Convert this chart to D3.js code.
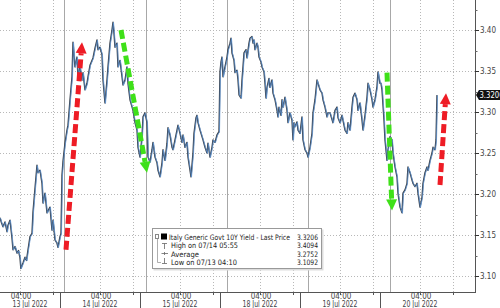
<!DOCTYPE html>
<html>
<head>
<meta charset="utf-8">
<script src="https://cdn.jsdelivr.net/npm/d3@7"></script>
<style>
  html, body { margin: 0; padding: 0; background: #fff; }
  svg { display: block; }
  text { font-family: "Liberation Sans Narrow", "DejaVu Sans Condensed", "Arial Narrow", sans-serif; }
</style>
</head>
<body>
<div id="viz"></div>
<script>
// trading days shown (weekend skipped); a session runs 20:00 the evening before -> 12:00
var dayLabels = ["13 Jul 2022", "14 Jul 2022", "15 Jul 2022", "18 Jul 2022", "19 Jul 2022", "20 Jul 2022"];
// solid session-open markers (hour, negative = previous evening)
var sessionOpen = [null, -3.2, -2.8, -2.6, -2.4, -2.0];

// Italy 10Y yield, [hour, yield] per day
var day13 = [[0,3.171],[0.3,3.165],[0.6,3.160],[1.0,3.166],[1.4,3.154],[1.6,3.162],[2.0,3.168],[2.4,3.146],[2.6,3.132],[3.0,3.136],[3.4,3.128],[3.7,3.131],[4.0,3.122],[4.17,3.1092],[4.6,3.116],[5.0,3.123],[5.3,3.119],[5.6,3.132],[6.0,3.148],[6.4,3.152],[6.6,3.178],[7.0,3.207],[7.4,3.235],[7.6,3.226],[8.0,3.229],[8.4,3.213],[8.6,3.189],[9.0,3.201],[9.4,3.177],[10.0,3.184],[10.4,3.156],[10.6,3.168],[11.0,3.144],[11.4,3.140],[11.6,3.135],[12.0,3.148],[12.2,3.152]];
var day14 = [[-3.6,3.223],[-3.4,3.240],[-3.0,3.262],[-2.6,3.278],[-2.4,3.284],[-2.0,3.315],[-1.6,3.343],[-1.4,3.385],[-1.0,3.355],[-0.6,3.367],[-0.4,3.343],[0,3.355],[0.4,3.339],[0.6,3.348],[1.0,3.327],[1.4,3.335],[1.6,3.343],[2.0,3.357],[2.6,3.366],[3.0,3.378],[3.4,3.388],[3.6,3.376],[4.0,3.379],[4.4,3.370],[4.6,3.339],[5.0,3.311],[5.4,3.339],[5.6,3.355],[6.0,3.384],[6.4,3.400],[6.6,3.4094],[6.8,3.396],[7.0,3.379],[7.4,3.384],[7.6,3.355],[8.0,3.363],[8.4,3.343],[8.6,3.333],[9.0,3.339],[9.4,3.355],[9.6,3.335],[10.0,3.315],[10.6,3.302],[11.0,3.287],[11.4,3.278],[11.6,3.257],[12.0,3.245]];
var day15 = [[-3.6,3.270],[-3.4,3.294],[-3.0,3.299],[-2.6,3.287],[-2.4,3.245],[-2.0,3.239],[-1.6,3.254],[-1.4,3.263],[-1.0,3.245],[-0.6,3.238],[-0.4,3.229],[0,3.221],[0.4,3.238],[0.6,3.254],[1.0,3.241],[1.4,3.262],[1.6,3.281],[2.0,3.272],[2.4,3.257],[2.6,3.254],[3.0,3.266],[3.4,3.278],[3.6,3.284],[4.0,3.274],[4.4,3.263],[4.6,3.272],[5.0,3.257],[5.4,3.263],[5.6,3.245],[6.0,3.229],[6.2,3.221],[6.6,3.250],[6.8,3.274],[7.2,3.293],[7.4,3.296],[7.6,3.287],[8.0,3.278],[8.4,3.270],[8.6,3.266],[9.0,3.257],[9.4,3.250],[9.6,3.262],[10.0,3.245],[10.4,3.257],[10.6,3.266],[11.0,3.263],[11.4,3.272],[11.8,3.276]];
var day18 = [[-4.0,3.349],[-3.8,3.361],[-3.6,3.367],[-3.4,3.343],[-3.0,3.355],[-2.6,3.367],[-2.4,3.376],[-2.0,3.384],[-1.8,3.390],[-1.6,3.372],[-1.2,3.363],[-1.0,3.348],[-0.6,3.351],[-0.4,3.339],[-0.2,3.321],[0.2,3.317],[0.4,3.339],[0.6,3.355],[0.8,3.372],[1.2,3.376],[1.4,3.366],[1.8,3.384],[2.0,3.390],[2.4,3.392],[2.6,3.384],[2.8,3.388],[3.0,3.376],[3.4,3.384],[3.6,3.379],[3.8,3.367],[4.2,3.361],[4.4,3.355],[4.8,3.349],[5.0,3.335],[5.2,3.317],[5.4,3.330],[5.8,3.341],[6.0,3.330],[6.4,3.339],[6.6,3.323],[7.0,3.315],[7.4,3.302],[7.6,3.294],[7.8,3.306],[8.2,3.296],[8.4,3.315],[8.6,3.306],[9.0,3.318],[9.4,3.302],[9.6,3.287],[10.0,3.299],[10.4,3.290],[10.6,3.266],[10.8,3.287],[11.0,3.282],[11.4,3.288],[11.6,3.278],[12.0,3.274]];
var day19 = [[-3.6,3.294],[-3.4,3.266],[-3.0,3.254],[-2.6,3.250],[-2.4,3.245],[-2.0,3.257],[-1.6,3.274],[-1.4,3.299],[-1.0,3.315],[-0.6,3.339],[-0.4,3.335],[0,3.327],[0.4,3.323],[0.6,3.315],[1.0,3.306],[1.4,3.294],[1.6,3.299],[2.0,3.299],[2.6,3.287],[3.0,3.302],[3.4,3.306],[3.6,3.293],[4.0,3.287],[4.4,3.296],[5.0,3.278],[5.4,3.274],[5.6,3.287],[6.0,3.278],[6.4,3.306],[6.6,3.318],[7.0,3.323],[7.4,3.315],[7.6,3.302],[8.0,3.311],[8.4,3.290],[8.6,3.278],[9.0,3.296],[9.4,3.318],[9.6,3.335],[10.0,3.327],[10.4,3.315],[10.6,3.306],[11.0,3.315],[11.4,3.331],[11.6,3.349],[12.0,3.335],[12.2,3.335],[12.4,3.327]];
var day20 = [[-3.2,3.290],[-3.0,3.266],[-2.6,3.241],[-2.4,3.254],[-2.0,3.270],[-1.6,3.266],[-1.4,3.250],[-1.0,3.233],[-0.6,3.221],[-0.4,3.201],[0,3.184],[0.4,3.177],[0.6,3.201],[1.0,3.205],[1.4,3.213],[1.6,3.233],[2.0,3.226],[2.4,3.217],[2.6,3.213],[3.0,3.209],[3.4,3.213],[3.6,3.201],[4.0,3.184],[4.4,3.196],[4.6,3.213],[5.0,3.226],[5.4,3.233],[5.6,3.229],[6.0,3.241],[6.4,3.250],[6.6,3.257],[7.0,3.254],[7.2,3.266],[7.4,3.3206]];

var yTicks = [3.10, 3.15, 3.20, 3.25, 3.30, 3.35, 3.40];
var lastPrice = 3.3206;

var legendLabels = ["Italy Generic Govt 10Y Yield - Last Price", "High on 07/14 05:55", "Average", "Low on 07/13 04:10"];
var legendValues = ["3.3206", "3.4094", "3.2752", "3.1092"];

// annotation arrows: [day index, hour, yield] tail -> tip
var arrows = [
  {color: "#ee1c25", from: [1, -2.8, 3.132], to: [1, 0.4, 3.385]},
  {color: "#3fe019", from: [1, 8.2, 3.400], to: [2, -2.6, 3.226]},
  {color: "#3fe019", from: [5, -2.6, 3.348], to: [5, -1.6, 3.180]},
  {color: "#ee1c25", from: [5, 8.0, 3.211], to: [5, 9.2, 3.323]}
];

var width = 500, height = 308;
var plotRight = 475, plotBottom = 292;
var hoursPerDay = 16;
var textCol = "#444";

function sessionT(dayIndex, hour) { return dayIndex * hoursPerDay + hour + 4; }

var x = d3.scaleLinear().domain([4, 99]).range([0, plotRight]);
var y = d3.scaleLinear().domain([3.0805, 3.4366]).range([plotBottom, 0]);

var series = [];
[day13, day14, day15, day18, day19, day20].forEach(function (d, i) {
  d.forEach(function (p) { series.push({t: sessionT(i, p[0]), v: p[1]}); });
});

var svg = d3.select("#viz").append("svg")
  .attr("width", width).attr("height", height);

// grid
var grid = svg.append("g").attr("stroke", "#b8b8b8").attr("stroke-dasharray", "1,2");
grid.selectAll("line.h").data(yTicks).join("line").attr("class", "h")
  .attr("x1", 0).attr("x2", plotRight)
  .attr("y1", d => Math.round(y(d)) + 0.5).attr("y2", d => Math.round(y(d)) + 0.5);

var vGrid = [];
dayLabels.forEach(function (d, i) { vGrid.push(sessionT(i, 4)); vGrid.push(sessionT(i, 10.5)); });
vGrid = vGrid.filter(t => x(t) > 0 && x(t) < plotRight);
grid.selectAll("line.v").data(vGrid).join("line").attr("class", "v")
  .attr("x1", d => Math.round(x(d)) + 0.5).attr("x2", d => Math.round(x(d)) + 0.5)
  .attr("y1", 0).attr("y2", plotBottom);

// session open markers
svg.append("g").attr("stroke", "#a8a8a8").attr("stroke-width", 1)
  .selectAll("line").data(sessionOpen.map((h, i) => h === null ? null : sessionT(i, h)).filter(t => t !== null))
  .join("line")
  .attr("x1", d => Math.round(x(d)) + 0.5).attr("x2", d => Math.round(x(d)) + 0.5)
  .attr("y1", 0).attr("y2", plotBottom);

// series: dark trace with a blue highlight, like the terminal rendering
var line = d3.line().x(d => x(d.t)).y(d => y(d.v));
svg.append("path").datum(series)
  .attr("fill", "none").attr("stroke", "#3b424c").attr("stroke-width", 1.4)
  .attr("stroke-linejoin", "round").attr("d", line);
svg.append("path").datum(series)
  .attr("fill", "none").attr("stroke", "#5d93d2").attr("stroke-width", 0.8)
  .attr("stroke-linejoin", "round").attr("transform", "translate(0.5,0.3)").attr("d", line);

// arrows
arrows.forEach(function (a) {
  var x0 = x(sessionT(a.from[0], a.from[1])), y0 = y(a.from[2]);
  var x1 = x(sessionT(a.to[0], a.to[1])), y1 = y(a.to[2]);
  var dx = x1 - x0, dy = y1 - y0, len = Math.sqrt(dx * dx + dy * dy);
  var ux = dx / len, uy = dy / len, headLen = 11, headW = 5.5;
  var bx = x1 - ux * headLen, by = y1 - uy * headLen;
  svg.append("line")
    .attr("x1", x0).attr("y1", y0).attr("x2", bx).attr("y2", by)
    .attr("stroke", a.color).attr("stroke-width", 5).attr("stroke-dasharray", "9,4");
  svg.append("path")
    .attr("d", "M" + x1 + "," + y1 + "L" + (bx - uy * headW) + "," + (by + ux * headW) +
      "L" + (bx + uy * headW) + "," + (by - ux * headW) + "Z")
    .attr("fill", a.color);
});

// axes
svg.append("line").attr("x1", plotRight + 0.5).attr("x2", plotRight + 0.5).attr("y1", 0).attr("y2", plotBottom)
  .attr("stroke", "#555");
svg.append("line").attr("x1", 0).attr("x2", plotRight + 1).attr("y1", plotBottom + 0.5).attr("y2", plotBottom + 0.5)
  .attr("stroke", "#555");

var yMinor = yTicks.map(d => d + 0.025).concat([3.075]);
svg.append("g").selectAll("line").data(yTicks).join("line")
  .attr("x1", plotRight).attr("x2", plotRight + 4)
  .attr("y1", d => Math.round(y(d)) + 0.5).attr("y2", d => Math.round(y(d)) + 0.5)
  .attr("stroke", "#333");
svg.append("g").selectAll("line").data(yMinor.filter(d => y(d) > 0 && y(d) < plotBottom)).join("line")
  .attr("x1", plotRight).attr("x2", plotRight + 2.5)
  .attr("y1", d => Math.round(y(d)) + 0.5).attr("y2", d => Math.round(y(d)) + 0.5)
  .attr("stroke", "#666");
svg.append("g").selectAll("text").data(yTicks).join("text")
  .attr("x", plotRight + 5).attr("y", d => y(d) + 3)
  .attr("font-size", 8).attr("fill", textCol)
  .text(d => d.toFixed(2));

// last price tag (clipped by the right edge, as in the terminal export)
var lpY = y(lastPrice);
svg.append("path")
  .attr("d", "M" + (plotRight + 1) + "," + lpY + "L" + (plotRight + 4) + "," + (lpY - 5) + "H" + width + "V" + (lpY + 5) + "H" + (plotRight + 4) + "Z")
  .attr("fill", "#111");
svg.append("text").attr("x", plotRight + 4.5).attr("y", lpY + 3)
  .attr("font-size", 8).attr("fill", "#fff")
  .attr("textLength", 24).attr("lengthAdjust", "spacingAndGlyphs")
  .text(lastPrice.toFixed(4));

// x ticks, separators, labels
svg.append("g").selectAll("line").data(vGrid).join("line")
  .attr("x1", d => Math.round(x(d)) + 0.5).attr("x2", d => Math.round(x(d)) + 0.5)
  .attr("y1", plotBottom).attr("y2", plotBottom + 3).attr("stroke", "#555");
svg.append("g").selectAll("line").data(d3.range(1, dayLabels.length)).join("line")
  .attr("x1", d => Math.round(x(sessionT(d, -4))) + 0.5).attr("x2", d => Math.round(x(sessionT(d, -4))) + 0.5)
  .attr("y1", plotBottom).attr("y2", height).attr("stroke", "#555");
svg.append("g").selectAll("text").data(dayLabels).join("text")
  .attr("x", (d, i) => x(sessionT(i, 4)) + 1).attr("y", 299)
  .attr("text-anchor", "middle").attr("font-size", 8).attr("fill", textCol)
  .text("04:00");
svg.append("g").selectAll("text").data(dayLabels).join("text")
  .attr("x", function (d, i) {
    var a = Math.max(0, x(sessionT(i, -4))), b = Math.min(plotRight, x(sessionT(i, 12)));
    return (a + b) / 2;
  })
  .attr("y", 306.5).attr("text-anchor", "middle").attr("font-size", 8).attr("fill", textCol)
  .attr("textLength", 35).attr("lengthAdjust", "spacingAndGlyphs").text(d => d);

// legend
var lg = svg.append("g").attr("transform", "translate(152,228)");
lg.append("rect").attr("x", 1.5).attr("y", 1.5).attr("width", 170).attr("height", 41).attr("fill", "#ddd");
lg.append("rect").attr("x", 0.5).attr("y", 0.5).attr("width", 169).attr("height", 40)
  .attr("fill", "#fff").attr("stroke", "#999");
var rowY = [11.5, 20, 28.5, 36.5];
lg.append("rect").attr("x", 3.5).attr("y", 6.5).attr("width", 3).attr("height", 4).attr("fill", "none").attr("stroke", "#888");
lg.append("rect").attr("x", 9).attr("y", 5.5).attr("width", 6).attr("height", 6).attr("fill", "#000");
lg.append("path").attr("d", "M5.5,11V34.5H9").attr("fill", "none").attr("stroke", "#999").attr("stroke-width", 0.8);
lg.append("path").attr("d", "M10,15.5H15M12.5,15.5V21").attr("stroke", "#666").attr("stroke-width", 0.8);
lg.append("path").attr("d", "M9.5,25.5H16M12.5,24V27").attr("stroke", "#666").attr("stroke-width", 0.8);
lg.append("path").attr("d", "M12.5,30V35.5M10,35.5H15").attr("stroke", "#666").attr("stroke-width", 0.8);
var labLen = [121, 67, 28, 66];
lg.selectAll("text.lab").data(legendLabels).join("text").attr("class", "lab")
  .attr("x", (d, i) => i === 0 ? 17 : 19).attr("y", (d, i) => rowY[i])
  .attr("font-size", 7.5).attr("fill", "#222")
  .attr("textLength", (d, i) => labLen[i]).attr("lengthAdjust", "spacingAndGlyphs")
  .text(d => d);
lg.selectAll("text.val").data(legendValues).join("text").attr("class", "val")
  .attr("x", 166).attr("y", (d, i) => rowY[i]).attr("text-anchor", "end")
  .attr("font-size", 7.5).attr("fill", "#222")
  .attr("textLength", 21).attr("lengthAdjust", "spacingAndGlyphs")
  .text(d => d);
</script>
</body>
</html>
